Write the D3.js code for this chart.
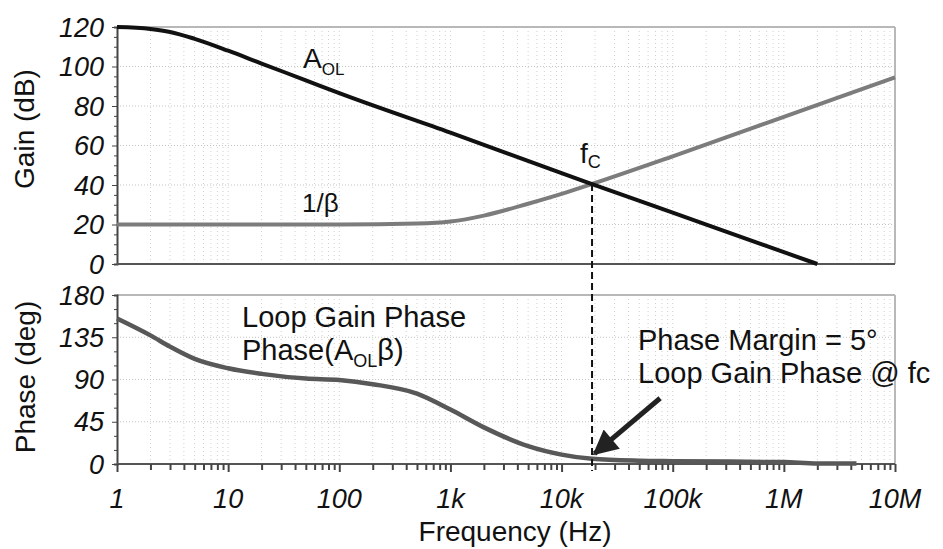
<!DOCTYPE html>
<html>
<head>
<meta charset="utf-8">
<script src="https://cdn.jsdelivr.net/npm/d3@7"></script>
<style>
  html, body { margin: 0; padding: 0; background: #fff; }
  svg { display: block; font-family: "Liberation Sans", Arial, sans-serif; }
</style>
</head>
<body>
<svg id="chart" width="943" height="549"></svg>
<script>
// ---- data ----
const freqAol = [1, 2, 3, 5, 10, 20, 50, 100, 1000, 10000, 18800, 100000, 1000000, 2000000];
const gainAol = [120, 119, 117.5, 114, 108, 101.5, 93, 86.5, 66.5, 46, 40.5, 26, 6, 0];

const freqBeta = [1, 100, 500, 1000, 2000, 5000, 10000, 18800, 100000, 1000000, 10000000];
const gainBeta = [20, 20, 20.5, 21.5, 24.5, 30.5, 35.5, 40.5, 54.5, 74.5, 94.5];

const freqPhase = [1, 2, 3, 5, 10, 20, 50, 100, 200, 500, 1000, 2000, 5000, 10000, 18800, 50000, 100000, 1000000, 2000000, 4500000];
const phaseVals = [155, 137, 125, 112, 102, 96, 91, 89.5, 85, 75, 58, 39, 19, 10, 5.5, 3.5, 3, 2, 0.5, 0.5];

const xTickVals = [1, 10, 100, 1000, 10000, 100000, 1000000, 10000000];
const xTickLabels = ["1", "10", "100", "1k", "10k", "100k", "1M", "10M"];
const gainTicks = [0, 20, 40, 60, 80, 100, 120];
const phaseTicks = [0, 45, 90, 135, 180];

const fc = 18800;          // crossover frequency
const fcGain = 40.5;
const arrowTip = [19800, 11];
const arrowTail = [77000, 70];

// ---- layout ----
const svg = d3.select("#chart");
const x = d3.scaleLog().domain([1, 1e7]).range([117, 895]);
const yG = d3.scaleLinear().domain([0, 120]).range([264, 27]);
const yP = d3.scaleLinear().domain([0, 180]).range([464, 295]);

const minorFreqs = [];
for (let d = 1; d < 1e7; d *= 10) for (let k = 1; k <= 9; k++) minorFreqs.push(d * k);
minorFreqs.push(1e7);

function panel(y, ticks, minorStep) {
  const g = svg.append("g");
  const [y0, y1] = y.range();
  g.selectAll(".vg").data(minorFreqs.filter(f => f > 1 && f < 1e7)).join("line")
    .attr("x1", d => x(d)).attr("x2", d => x(d))
    .attr("y1", y1).attr("y2", y0)
    .attr("stroke", "#d0d0d0").attr("stroke-width", 1).attr("stroke-dasharray", "1,3");
  g.selectAll(".hg").data(ticks.slice(1, -1)).join("line")
    .attr("x1", x.range()[0]).attr("x2", x.range()[1])
    .attr("y1", d => y(d)).attr("y2", d => y(d))
    .attr("stroke", "#c4c4c4").attr("stroke-width", 1).attr("stroke-dasharray", "1,2");
  g.append("line").attr("x1", x.range()[0]).attr("x2", x.range()[1]).attr("y1", y1).attr("y2", y1)
    .attr("stroke", "#b8b8b8").attr("stroke-width", 2);
  g.append("line").attr("x1", x.range()[1]).attr("x2", x.range()[1]).attr("y1", y1).attr("y2", y0)
    .attr("stroke", "#b8b8b8").attr("stroke-width", 2);
  const minor = d3.range(y.domain()[0], y.domain()[1] + 0.001, minorStep);
  const ax = d3.axisLeft(y).tickValues(minor).tickSize(3).tickFormat("");
  const ga = g.append("g").attr("transform", `translate(${x.range()[0]},0)`).call(ax);
  ga.selectAll("path,line").attr("stroke", "#444");
  ga.select("path").attr("stroke-width", 2);
  ga.selectAll(".tick line").attr("x2", d => ticks.includes(d) ? -5 : -3);
  g.selectAll(".yl").data(ticks).join("text")
    .attr("x", 104).attr("y", d => y(d)).attr("dy", "0.36em")
    .attr("text-anchor", "end").attr("font-style", "italic").attr("font-size", 27)
    .attr("fill", "#111").text(d => d);
  g.append("line").attr("x1", x.range()[0]).attr("x2", x.range()[1]).attr("y1", y0).attr("y2", y0)
    .attr("stroke", "#555").attr("stroke-width", 2);
  return g;
}

panel(yG, gainTicks, 5);
panel(yP, phaseTicks, 15);

const xAxis = d3.axisBottom(x).tickValues(minorFreqs).tickSize(5).tickFormat("");
const gx = svg.append("g").attr("transform", `translate(0,${yP.range()[0]})`).call(xAxis);
gx.select("path").remove();
gx.selectAll(".tick line").attr("stroke", "#444").attr("stroke-width", 2)
  .attr("y2", d => xTickVals.includes(d) ? 8 : 6);

svg.selectAll(".xl").data(xTickVals).join("text")
  .attr("x", d => x(d)).attr("y", 508)
  .attr("text-anchor", "middle").attr("font-style", "italic").attr("font-size", 27)
  .attr("fill", "#111").text((d, i) => xTickLabels[i]);

svg.append("text").attr("transform", `translate(34,129) rotate(-90)`)
  .attr("text-anchor", "middle").attr("font-size", 28).attr("fill", "#111").text("Gain (dB)");
svg.append("text").attr("transform", `translate(35,377) rotate(-90)`)
  .attr("text-anchor", "middle").attr("font-size", 28).attr("fill", "#111").text("Phase (deg)");
svg.append("text").attr("x", 515).attr("y", 541)
  .attr("text-anchor", "middle").attr("font-size", 28).attr("fill", "#111").text("Frequency (Hz)");

const lineG = d3.line().x(d => x(d[0])).y(d => yG(d[1])).curve(d3.curveMonotoneX);
const lineP = d3.line().x(d => x(d[0])).y(d => yP(d[1])).curve(d3.curveMonotoneX);

svg.append("path").datum(d3.zip(freqBeta, gainBeta)).attr("d", lineG)
  .attr("fill", "none").attr("stroke", "#7c7c7c").attr("stroke-width", 4);
svg.append("path").datum(d3.zip(freqAol, gainAol)).attr("d", lineG)
  .attr("fill", "none").attr("stroke", "#111").attr("stroke-width", 4);
svg.append("path").datum(d3.zip(freqPhase, phaseVals)).attr("d", lineP)
  .attr("fill", "none").attr("stroke", "#585858").attr("stroke-width", 4.5);

svg.append("line").attr("x1", x(fc)).attr("x2", x(fc))
  .attr("y1", yG(fcGain)).attr("y2", yP(0) + 7)
  .attr("stroke", "#111").attr("stroke-width", 2).attr("stroke-dasharray", "7,4");

const defs = svg.append("defs");
defs.append("marker").attr("id", "ah").attr("viewBox", "0 0 10 10")
  .attr("refX", 9).attr("refY", 5).attr("markerWidth", 5.5).attr("markerHeight", 5)
  .attr("markerUnits", "strokeWidth").attr("orient", "auto")
  .append("path").attr("d", "M0,0 L10,5 L0,10 z").attr("fill", "#222");
svg.append("line")
  .attr("x1", x(arrowTail[0])).attr("y1", yP(arrowTail[1]))
  .attr("x2", x(arrowTip[0])).attr("y2", yP(arrowTip[1]))
  .attr("stroke", "#222").attr("stroke-width", 5).attr("marker-end", "url(#ah)");

const tc = "#111";
const tA = svg.append("text").attr("x", 303).attr("y", 68).attr("font-size", 28).attr("fill", tc);
tA.append("tspan").text("A");
tA.append("tspan").attr("font-size", 17).attr("dy", 7).text("OL");

svg.append("text").attr("x", 302).attr("y", 212).attr("font-size", 26).attr("fill", tc).text("1/β");

const tf = svg.append("text").attr("x", 580).attr("y", 163).attr("font-size", 28).attr("fill", tc);
tf.append("tspan").text("f");
tf.append("tspan").attr("font-size", 18).attr("dy", 5).text("C");

svg.append("text").attr("x", 242).attr("y", 327).attr("font-size", 29).attr("fill", tc).text("Loop Gain Phase");
const tph = svg.append("text").attr("x", 242).attr("y", 360).attr("font-size", 29).attr("fill", tc);
tph.append("tspan").text("Phase(A");
tph.append("tspan").attr("font-size", 18).attr("dy", 7).text("OL");
tph.append("tspan").attr("dy", -7).text("β)");

svg.append("text").attr("x", 638).attr("y", 350).attr("font-size", 29).attr("fill", tc).text("Phase Margin = 5°");
svg.append("text").attr("x", 638).attr("y", 383).attr("font-size", 29).attr("fill", tc).text("Loop Gain Phase @ fc");
</script>
</body>
</html>
